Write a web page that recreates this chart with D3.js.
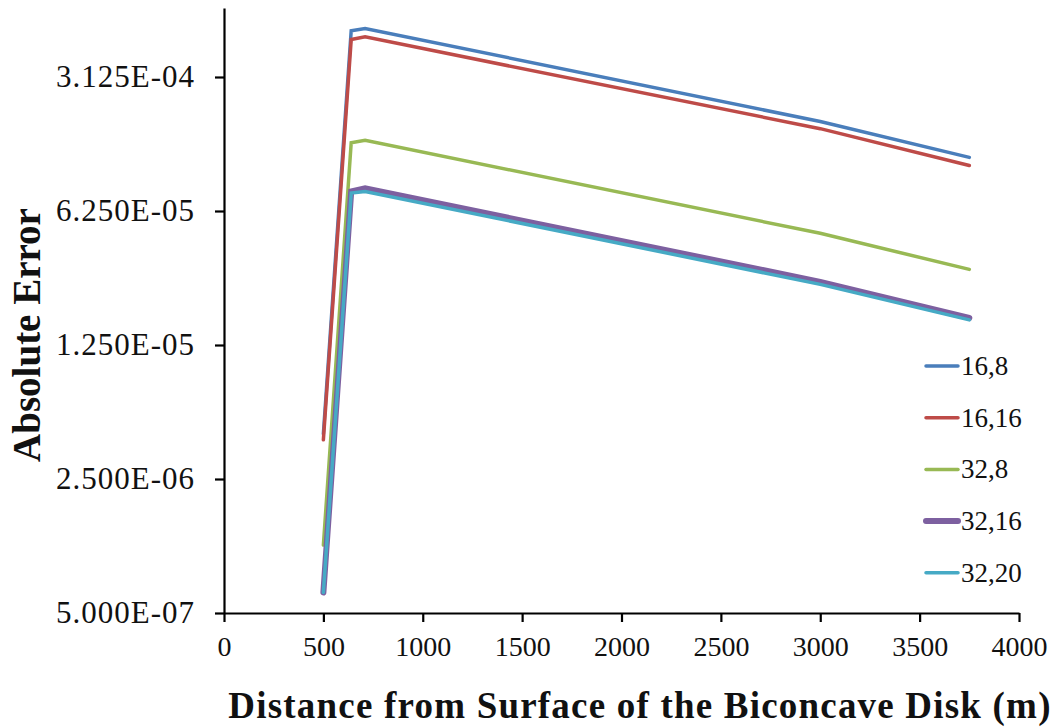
<!DOCTYPE html>
<html>
<head>
<meta charset="utf-8">
<script src="https://cdn.jsdelivr.net/npm/d3@7"></script>
<style>
  body { margin: 0; background: white; }
  svg { display: block; }
</style>
</head>
<body>
<div id="chart"></div>
<script>
// distances (m) shared by every series
const distances = [500, 640, 710, 3000, 3750];

// absolute error per series
const err_16_8  = [4.3e-6, 5.45e-4, 5.6e-4, 1.83e-4, 1.19e-4];
const err_16_16 = [4.0e-6, 4.9e-4, 5.06e-4, 1.68e-4, 1.08e-4];
const err_32_8  = [1.13e-6, 1.42e-4, 1.46e-4, 4.78e-5, 3.1e-5];
const err_32_16 = [6.4e-7, 7.9e-5, 8.2e-5, 2.67e-5, 1.73e-5];
const err_32_20 = [6.4e-7, 7.75e-5, 7.9e-5, 2.59e-5, 1.69e-5];

const seriesNames = ["16,8", "16,16", "32,8", "32,16", "32,20"];
const xTicks = [0, 500, 1000, 1500, 2000, 2500, 3000, 3500, 4000];
const yTicks = [5e-7, 2.5e-6, 1.25e-5, 6.25e-5, 3.125e-4];
const yTickLabels = ["5.000E-07", "2.500E-06", "1.250E-05", "6.250E-05", "3.125E-04"];

const colors = ["#4a7ebb", "#be4b48", "#98b954", "#7d60a0", "#46aac5"];
const widths = [3.5, 3.5, 3.5, 6, 3.5];

const width = 1053;
const height = 727;

const series = [err_16_8, err_16_16, err_32_8, err_32_16, err_32_20].map((vals, i) => ({
    name: seriesNames[i],
    color: colors[i],
    width: widths[i],
    points: vals.map((v, j) => ({ x: distances[j], y: v }))
}));

const svg = d3.select("#chart").append("svg")
    .attr("width", width)
    .attr("height", height)
    .style("font-family", "'Liberation Serif', serif");

const x = d3.scaleLinear().domain([0, 4000]).range([224, 1019]);

// log axis: 5E-07 at bottom, 3.125E-04 tick, plot area runs a bit above it
const y = d3.scaleLog().domain([5e-7, 3.125e-4]).range([613, 77]);
y.domain([5e-7, y.invert(8)]).range([613, 8]);

// x axis
const xAxis = svg.append("g")
    .attr("transform", `translate(0,${y(5e-7)})`)
    .call(d3.axisBottom(x).tickValues(xTicks).tickFormat(d3.format("d"))
        .tickSize(9).tickSizeOuter(0).tickPadding(14));
xAxis.select(".domain").attr("stroke", "#000").attr("stroke-width", 2.2);
xAxis.selectAll(".tick line").attr("stroke", "#000").attr("stroke-width", 2.2);
xAxis.selectAll(".tick text")
    .attr("fill", "#111")
    .style("font-size", "28px")
    .style("font-family", "'Liberation Serif', serif");

// y axis
const yAxis = svg.append("g")
    .attr("transform", `translate(${x(0)},0)`)
    .call(d3.axisLeft(y).tickValues(yTicks).tickFormat((d, i) => yTickLabels[i])
        .tickSize(9).tickSizeOuter(0).tickPadding(20));
yAxis.select(".domain").attr("stroke", "#000").attr("stroke-width", 2.2);
yAxis.selectAll(".tick line").attr("stroke", "#000").attr("stroke-width", 2.2);
yAxis.selectAll(".tick text")
    .attr("fill", "#111")
    .style("font-size", "31px")
    .style("letter-spacing", "1px")
    .style("font-family", "'Liberation Serif', serif");

// lines
const line = d3.line()
    .x(d => x(d.x))
    .y(d => y(d.y));

svg.append("g")
    .selectAll("path")
    .data(series)
    .join("path")
    .attr("d", d => line(d.points))
    .attr("fill", "none")
    .attr("stroke", d => d.color)
    .attr("stroke-width", d => d.width)
    .attr("stroke-linecap", "round")
    .attr("stroke-linejoin", "miter");

// legend
const legend = svg.append("g").attr("transform", "translate(926,366)");
const items = legend.selectAll("g")
    .data(series)
    .join("g")
    .attr("transform", (d, i) => `translate(0,${i * 51.7})`);
items.append("line")
    .attr("x1", 0).attr("x2", 32)
    .attr("stroke", d => d.color)
    .attr("stroke-width", d => d.width)
    .attr("stroke-linecap", "round");
items.append("text")
    .attr("x", 35)
    .attr("y", 9)
    .attr("fill", "#111")
    .style("font-size", "27px")
    .text(d => d.name);

// axis titles
svg.append("text")
    .attr("x", 640)
    .attr("y", 718)
    .attr("text-anchor", "middle")
    .attr("fill", "#111")
    .style("font-size", "37px")
    .style("letter-spacing", "1.2px")
    .style("font-weight", "bold")
    .text("Distance from Surface of the Biconcave Disk (m)");

svg.append("text")
    .attr("transform", "translate(40,335) rotate(-90)")
    .attr("text-anchor", "middle")
    .attr("fill", "#111")
    .style("font-size", "39px")
    .style("font-weight", "bold")
    .text("Absolute Error");
</script>
</body>
</html>
